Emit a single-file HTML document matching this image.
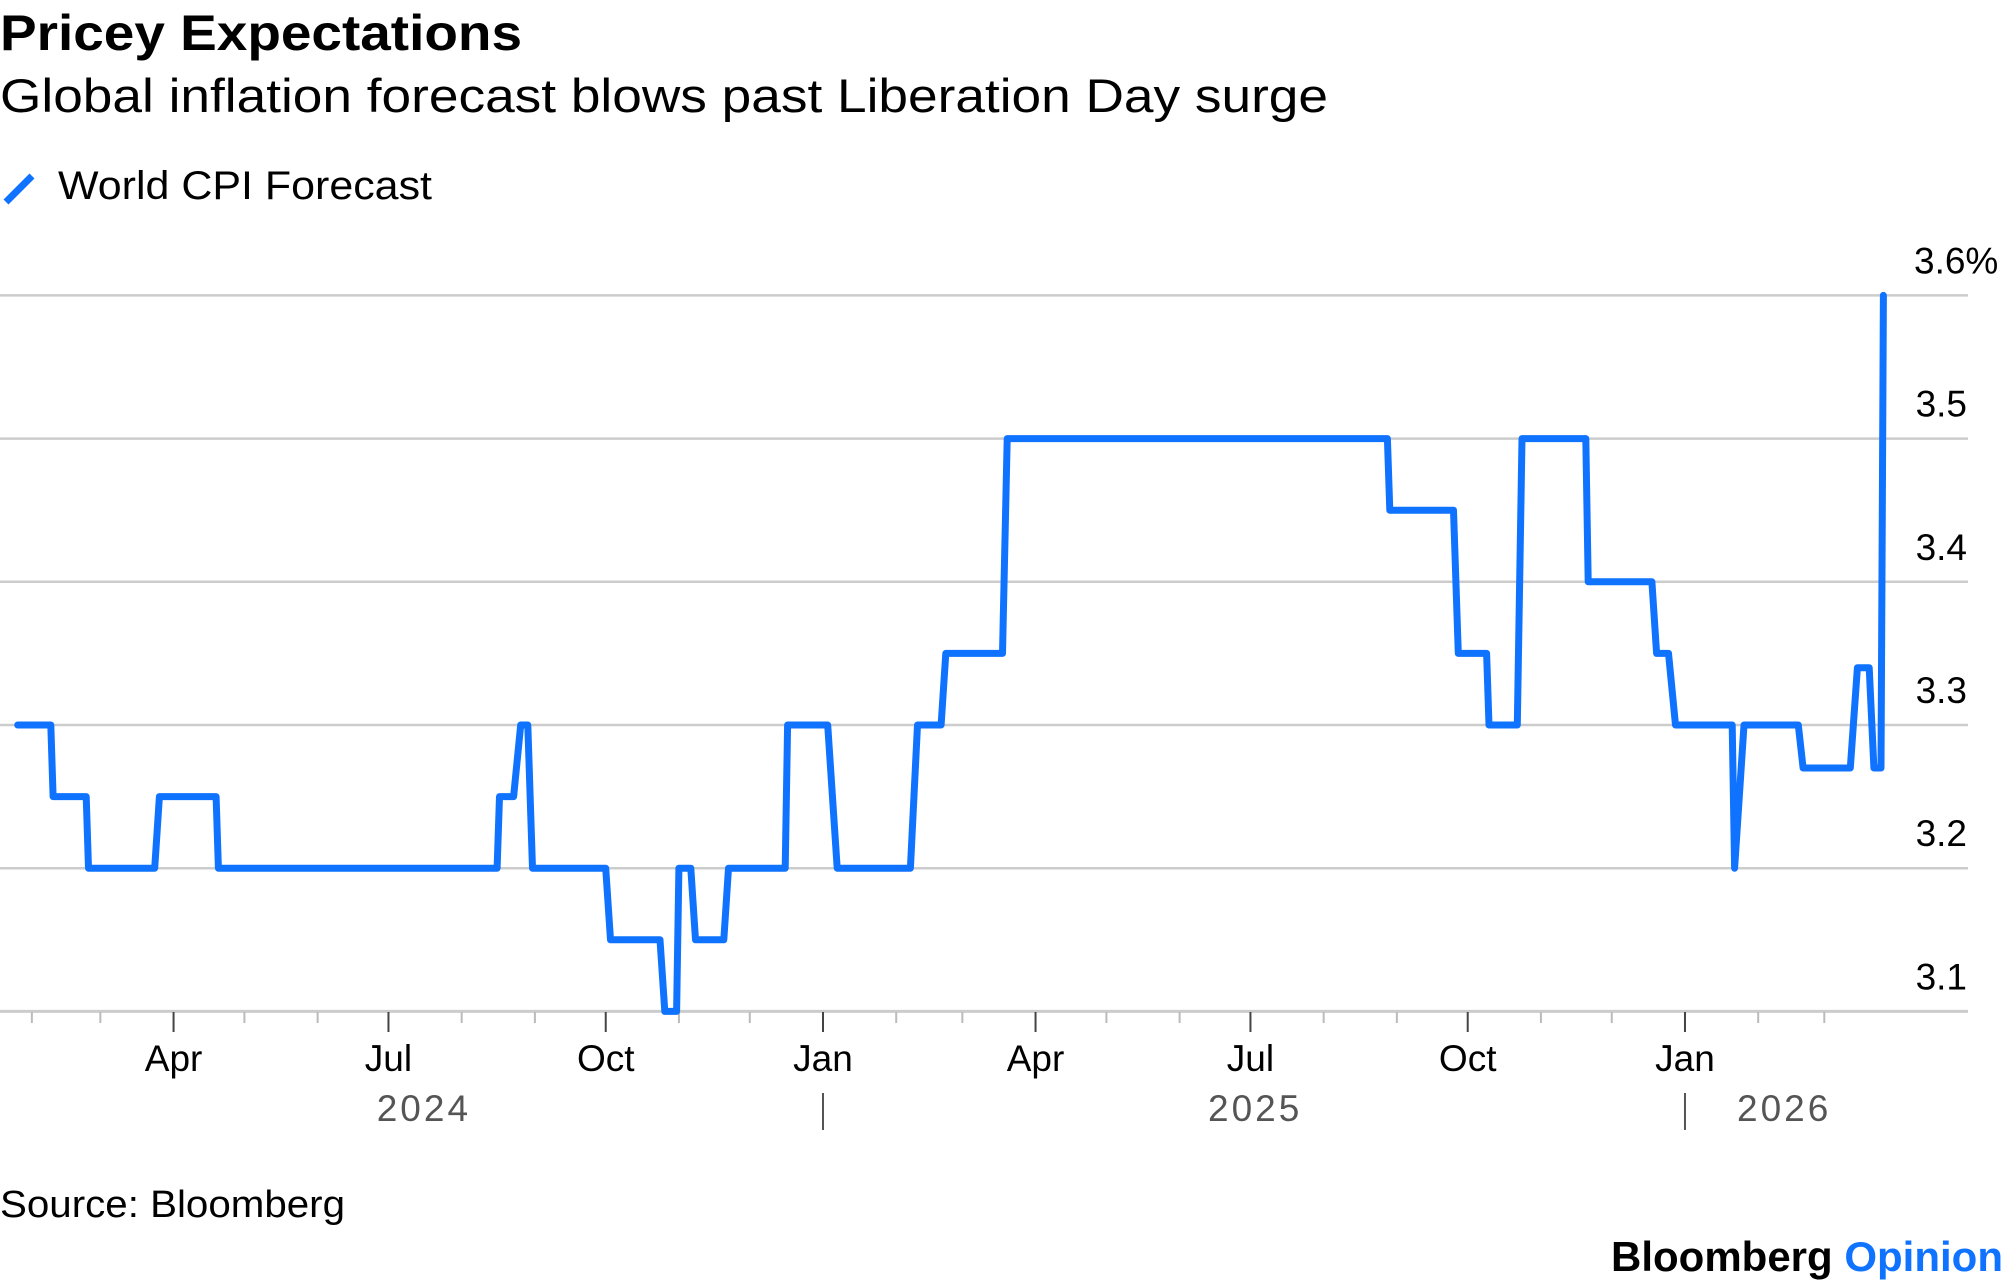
<!DOCTYPE html>
<html><head><meta charset="utf-8">
<style>
html,body{margin:0;padding:0;background:#fff;}
svg{display:block;font-family:"Liberation Sans",Arial,sans-serif;}
</style></head>
<body>
<svg id="chart" width="2005" height="1287" viewBox="0 0 2005 1287">
<text x="0" y="50" font-size="50" font-weight="bold" fill="#000" textLength="522" lengthAdjust="spacingAndGlyphs">Pricey Expectations</text>
<text x="0" y="112" font-size="47" fill="#000" textLength="1328" lengthAdjust="spacingAndGlyphs">Global inflation forecast blows past Liberation Day surge</text>
<g>
<line x1="6" y1="202" x2="32" y2="176" stroke="#0f73ff" stroke-width="7"/>
<text x="58" y="199" font-size="40" fill="#000" textLength="374" lengthAdjust="spacingAndGlyphs">World CPI Forecast</text>
</g>
<g id="grid"></g>
<g id="yl"></g>
<g id="xa"></g>
<g id="ser"></g>
<text x="0" y="1217" font-size="38" fill="#000" textLength="345" lengthAdjust="spacingAndGlyphs">Source: Bloomberg</text>
<text x="2003" y="1271" font-size="42" font-weight="bold" text-anchor="end"><tspan fill="#000">Bloomberg </tspan><tspan fill="#0f73ff">Opinion</tspan></text>
</svg>
<script>
const yTicks = [3.1, 3.2, 3.3, 3.4, 3.5, 3.6];
const yTickLabels = ["3.1", "3.2", "3.3", "3.4", "3.5", "3.6%"];
const monthLabels = [["2024-04-01","Apr"],["2024-07-01","Jul"],["2024-10-01","Oct"],["2025-01-01","Jan"],["2025-04-01","Apr"],["2025-07-01","Jul"],["2025-10-01","Oct"],["2026-01-01","Jan"]];
const yearLabels = [["2024-07-16","2024"],["2025-07-03","2025"],["2026-02-12","2026"]];
const yearBoundaries = ["2025-01-01","2026-01-01"];
const dates = ["2024-01-26","2024-02-09","2024-02-10","2024-02-24","2024-02-25","2024-03-24","2024-03-26","2024-04-19","2024-04-20","2024-08-16","2024-08-17","2024-08-23","2024-08-26","2024-08-29","2024-08-31","2024-10-01","2024-10-03","2024-10-24","2024-10-26","2024-10-31","2024-11-01","2024-11-06","2024-11-08","2024-11-20","2024-11-22","2024-12-16","2024-12-17","2025-01-03","2025-01-07","2025-02-07","2025-02-10","2025-02-20","2025-02-22","2025-03-18","2025-03-20","2025-08-28","2025-08-29","2025-09-25","2025-09-27","2025-10-09","2025-10-10","2025-10-22","2025-10-24","2025-11-20","2025-11-21","2025-12-18","2025-12-20","2025-12-25","2025-12-28","2026-01-21","2026-01-22","2026-01-26","2026-02-18","2026-02-20","2026-03-12","2026-03-15","2026-03-20","2026-03-22","2026-03-25","2026-03-26"];
const values = [3.3,3.3,3.25,3.25,3.2,3.2,3.25,3.25,3.2,3.2,3.25,3.25,3.3,3.3,3.2,3.2,3.15,3.15,3.1,3.1,3.2,3.2,3.15,3.15,3.2,3.2,3.3,3.3,3.2,3.2,3.3,3.3,3.35,3.35,3.5,3.5,3.45,3.45,3.35,3.35,3.3,3.3,3.5,3.5,3.4,3.4,3.35,3.35,3.3,3.3,3.2,3.3,3.3,3.27,3.27,3.34,3.34,3.27,3.27,3.6];

const NS = "http://www.w3.org/2000/svg";
const BASE = Date.UTC(2025,0,1);
function dayOf(s){const p=s.split("-");return (Date.UTC(+p[0],+p[1]-1,+p[2])-BASE)/86400000;}
function xScale(s){return 823 + dayOf(s)*2.3616;}
function yScale(v){return 1011.4 - (v-3.1)/0.1*143.2;}
function mk(tag, attrs, parent){const e=document.createElementNS(NS,tag);for(const k in attrs)e.setAttribute(k,attrs[k]);parent.appendChild(e);return e;}

const grid=document.getElementById("grid"), yl=document.getElementById("yl"), xa=document.getElementById("xa"), ser=document.getElementById("ser");
yTicks.forEach((t,i)=>{
  const y=yScale(t);
  const l=mk("line",{x1:0,x2:1968,y1:y,y2:y,stroke:"#cccccc","stroke-width":i===0?3:2.5},grid);
  
  
  const tx=mk("text",{x:1967,y:y-22,"font-size":37,fill:"#000","text-anchor":"end"},yl);
  if(i===yTicks.length-1){tx.setAttribute("text-anchor","start");tx.setAttribute("x",1914);}
  tx.textContent=yTickLabels[i];
  
  
});
for(let y=2024;y<=2026;y++){for(let m=1;m<=12;m++){
  const s=y+"-"+String(m).padStart(2,"0")+"-01";
  const x=xScale(s); if(x<10||x>1880) continue;
  const major=(m===1||m===4||m===7||m===10);
  const t=mk("line",{x1:x,x2:x,y1:1012,y2:major?1032:1023,stroke:major?"#444":"#bbb","stroke-width":2},xa);
  
  
}}
monthLabels.forEach(([d,l])=>{
  const t=mk("text",{x:xScale(d),y:1071,"font-size":37,fill:"#000","text-anchor":"middle"},xa);
  t.textContent=l;
  
  
});
yearLabels.forEach(([d,l])=>{
  const t=mk("text",{x:xScale(d),y:1121,"font-size":37,fill:"#555","text-anchor":"middle","letter-spacing":"3"},xa);
  t.textContent=l;
  
  
});
yearBoundaries.forEach(d=>{
  const x=xScale(d);
  const t=mk("line",{x1:x,x2:x,y1:1093,y2:1130,stroke:"#555","stroke-width":2},xa);
  
  
});
const pts=dates.map((d,i)=>xScale(d).toFixed(1)+","+yScale(values[i]).toFixed(1)).join(" ");
const pl=mk("polyline",{points:pts,fill:"none",stroke:"#0f73ff","stroke-width":7,"stroke-linejoin":"round","stroke-linecap":"round"},ser);


</script>
</body></html>
